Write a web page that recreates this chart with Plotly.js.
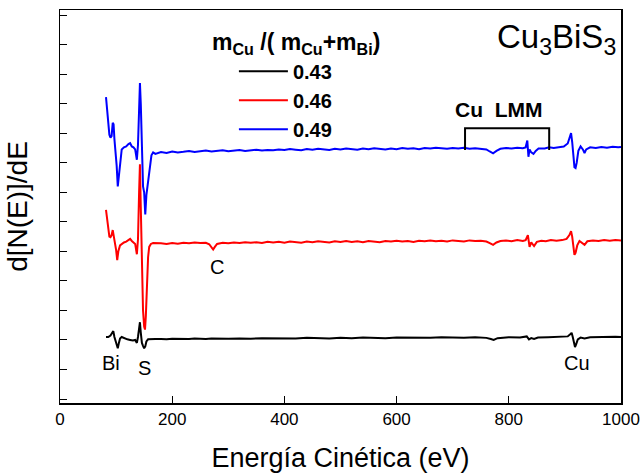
<!DOCTYPE html>
<html>
<head>
<meta charset="utf-8">
<script src="https://cdn.plot.ly/plotly-3.0.1.min.js"></script>
<style>html,body{margin:0;padding:0;background:#fff;}#chart{width:644px;height:473px;}</style>
</head>
<body>
<div id="chart"></div>
<script>
// Kinetic energy (eV) and d[N(E)]/dE (arbitrary, offset) for each composition
const blueX = [82,84,86,88,90,92,94,95.5,97,99,101,103,105,107,110,114,118,122,125,128,131,134,137,139,141,142.5,144,146,148,150,152,154,156,158,160,163,166,170,
  180,190,200,210,220,230,240,250,260,270,280,290,300,310,320,330,340,350,360,370,380,390,400,410,420,430,440,450,460,470,480,490,500,510,520,530,540,550,560,570,580,590,600,610,620,630,640,650,660,670,680,690,700,710,720,730,740,750,760,766,772,778,785,795,805,815,825,830,833,835,837,840,844,848,853,864,872,880,890,898,905,909,911,913,915,917,919,921,924,928,932,935,938,945,955,965,975,985,995,1000];
const blueY = [10.22,9.85,9.30,8.95,8.85,8.90,9.35,9.30,8.80,8.45,7.90,7.20,7.60,8.10,8.45,8.52,8.55,8.63,8.66,8.55,8.52,8.45,8.10,8.60,9.90,10.70,10.00,8.60,7.20,7.00,6.25,6.90,7.20,7.60,7.95,8.25,8.35,8.30,
  8.36,8.33,8.38,8.35,8.37,8.40,8.36,8.39,8.41,8.38,8.40,8.42,8.39,8.41,8.43,8.40,8.42,8.44,8.41,8.43,8.42,8.45,8.43,8.46,8.44,8.42,8.46,8.44,8.47,8.45,8.43,8.47,8.45,8.48,8.46,8.44,8.48,8.46,8.49,8.47,8.45,8.48,8.46,8.50,8.47,8.49,8.46,8.50,8.48,8.51,8.49,8.47,8.50,8.48,8.51,8.47,8.49,8.46,8.45,8.38,8.32,8.40,8.47,8.50,8.48,8.51,8.49,8.52,8.75,8.20,8.45,8.35,8.30,8.40,8.48,8.48,8.52,8.50,8.53,8.55,8.65,8.90,9.00,8.70,8.20,7.85,7.82,8.00,8.40,8.55,8.45,8.33,8.45,8.52,8.50,8.53,8.51,8.54,8.52,8.53];

const redX = [82,84,86,88,90,92,94,96,98,100,102,104,107,110,114,118,122,125,128,131,134,137,139,141,142.5,144,146,148,150,151.5,153,155,157,159,162,166,170,
  180,190,200,210,220,230,240,250,260,266,270,273,276,280,290,300,310,320,330,340,350,360,370,380,390,400,410,420,430,440,450,460,470,480,490,500,510,520,530,540,550,560,570,580,590,600,610,620,630,640,650,660,670,680,690,700,710,720,730,740,750,760,767,772,778,785,795,805,815,825,830,834,837,840,845,850,858,866,875,885,895,903,908,911,913,915,917,919,922,926,930,935,940,950,960,970,980,990,1000];
const redY = [6.40,6.05,5.65,5.50,5.48,5.55,5.72,5.50,5.30,5.05,4.70,5.00,5.20,5.25,5.30,5.33,5.40,5.42,5.35,5.30,5.25,4.90,5.40,7.00,7.95,6.50,4.50,3.00,2.45,2.35,2.80,3.90,4.80,5.15,5.25,5.28,5.27,
  5.27,5.25,5.28,5.26,5.29,5.27,5.30,5.28,5.29,5.24,5.12,5.06,5.15,5.25,5.29,5.27,5.30,5.28,5.31,5.29,5.31,5.28,5.32,5.30,5.32,5.29,5.33,5.31,5.29,5.33,5.31,5.34,5.32,5.30,5.34,5.32,5.35,5.32,5.34,5.31,5.35,5.33,5.31,5.35,5.33,5.36,5.33,5.35,5.32,5.36,5.34,5.37,5.34,5.36,5.33,5.37,5.35,5.33,5.37,5.35,5.36,5.33,5.27,5.22,5.30,5.35,5.37,5.34,5.38,5.35,5.38,5.55,5.15,5.30,5.18,5.32,5.36,5.34,5.38,5.36,5.38,5.42,5.55,5.68,5.50,5.10,4.88,4.95,5.20,5.35,5.30,5.22,5.34,5.37,5.35,5.38,5.36,5.38,5.37];

const blackX = [82,86,90,93,95,97,99,101,103,105,107,110,115,120,125,130,134,137,139,141,142.5,144,146,148,150,152,154,157,162,170,
  180,190,200,210,220,230,240,250,260,270,280,290,300,320,340,360,380,400,420,440,460,480,500,520,540,560,580,600,620,640,660,680,700,720,740,760,768,773,780,800,820,832,836,840,845,852,870,890,905,910,912,914,916,918,920,923,928,935,945,960,975,990,1000];
const blackY = [2.10,2.10,2.15,2.25,2.30,2.10,1.95,1.80,1.72,1.90,2.05,2.10,2.05,2.02,2.00,1.98,2.00,1.90,2.10,2.45,2.60,2.25,1.90,1.80,1.72,1.78,1.95,2.02,2.03,2.03,
  2.03,2.02,2.04,2.03,2.04,2.03,2.05,2.04,2.03,2.05,2.04,2.05,2.04,2.05,2.04,2.06,2.05,2.06,2.05,2.07,2.06,2.05,2.07,2.06,2.08,2.07,2.06,2.08,2.07,2.08,2.07,2.09,2.08,2.07,2.09,2.07,2.03,2.00,2.06,2.09,2.08,2.12,2.02,2.06,2.03,2.08,2.09,2.10,2.12,2.20,2.24,2.10,1.85,1.76,1.85,2.02,2.08,2.05,2.09,2.10,2.09,2.11,2.10];

const seriesNames = ['0.43','0.46','0.49'];
const seriesColors = ['#000000','#ff0000','#0000ff'];
const legendTitle = '<b>m<sub>Cu</sub> /( m<sub>Cu</sub>+m<sub>Bi</sub>)</b>';
const xTickVals = [0,200,400,600,800,1000];
const xTickText = ['0','200','400','600','800','1000'];

// Peak labels (text, energy, level)
const peakText = ['Bi','S','C','Cu'];
const peakX = [91,150,280,922];
const peakY = [1.22,1.06,4.48,1.22];
// Cu LMM bracket
const lmmX = [722,872];
const lmmY = [8.43,9.17];

const FONT = 'Arial, "Liberation Sans", sans-serif';

const xs = [blackX, redX, blueX];
const ys = [blackY, redY, blueY];
const traces = xs.map((x,i)=>({
  x:x, y:ys[i], type:'scatter', mode:'lines', name:seriesNames[i],
  legendgroup:'g'+i,
  line:{color:seriesColors[i], width:2}
}));

const annotations = peakText.map((t,i)=>({
  x:peakX[i], y:peakY[i], xref:'x', yref:'y', text:t, showarrow:false,
  font:{family:FONT, size:20, color:'#000'}
}));
annotations.push({x:885, y:12.2, xref:'x', yref:'y', showarrow:false,
  text:'Cu<sub>3</sub>BiS<sub>3</sub>', font:{family:FONT, size:33, color:'#000'}});
annotations.push({x:782, y:9.8, xref:'x', yref:'y', showarrow:false,
  text:'<b>Cu  LMM</b>', font:{family:FONT, size:21, color:'#000'}});
// legend heading, placed like the original (overhanging left of the entries)
annotations.push({x:421, y:12.03, xref:'x', yref:'y', showarrow:false,
  text:legendTitle, font:{family:FONT, size:23, color:'#000'}});

const layout = {
  width:644, height:473,
  margin:{l:60, r:23, t:10, b:70},
  paper_bgcolor:'#fff', plot_bgcolor:'#fff',
  font:{family:FONT, color:'#000'},
  showlegend:true,
  legend:{
    x:0.31, y:0.894, xanchor:'left', yanchor:'top',
    bgcolor:'rgba(0,0,0,0)', borderwidth:0,
    traceorder:'grouped', tracegroupgap:0, itemwidth:49,
    font:{family:FONT, size:20, color:'#000', weight:'bold'}
  },
  xaxis:{
    range:[0,1000], tickvals:xTickVals, ticktext:xTickText,
    ticks:'inside', ticklen:7, tickwidth:1, tickcolor:'#000',
    showline:true, linecolor:'#000', linewidth:1.5, mirror:true,
    showgrid:false, zeroline:false,
    tickfont:{family:FONT, size:17, color:'#000'},
    title:{text:'Energía Cinética (eV)', standoff:20, font:{family:FONT, size:27, color:'#000'}}
  },
  yaxis:{
    range:[-0.135,13.17], dtick:1, tick0:0,
    ticks:'inside', ticklen:7, tickwidth:1, tickcolor:'#000',
    showticklabels:false,
    showline:true, linecolor:'#000', linewidth:1.5, mirror:true,
    showgrid:false, zeroline:false,
    title:{text:'d[N(E)]/dE', standoff:22, font:{family:FONT, size:28, color:'#000'}}
  },
  annotations:annotations,
  shapes:[{type:'path', xref:'x', yref:'y',
    path:'M'+lmmX[0]+','+lmmY[0]+' L'+lmmX[0]+','+lmmY[1]+' L'+lmmX[1]+','+lmmY[1]+' L'+lmmX[1]+','+lmmY[0],
    line:{color:'#000', width:2}}]
};

Plotly.newPlot('chart', traces, layout, {displayModeBar:false, staticPlot:true});
</script>
</body>
</html>
